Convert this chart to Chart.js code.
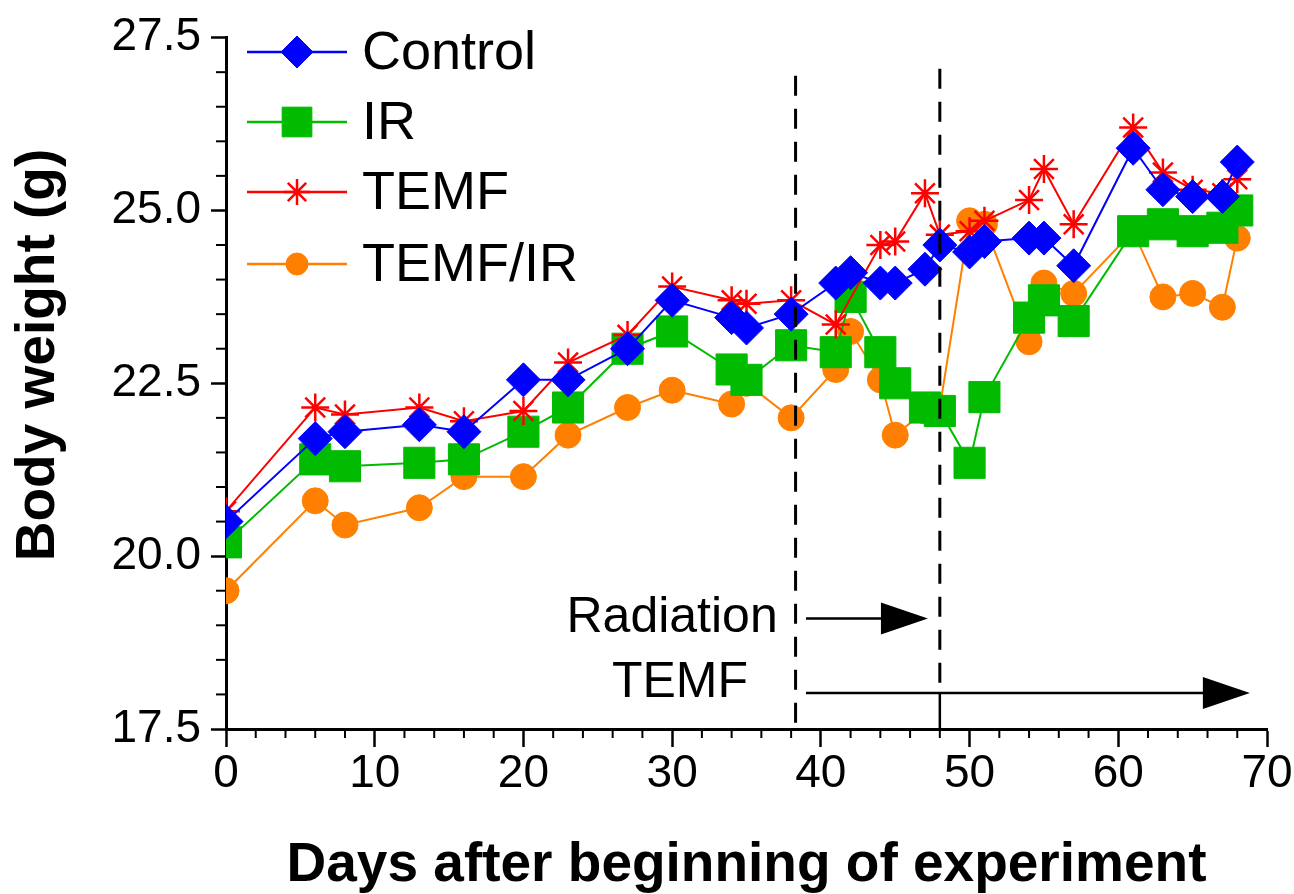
<!DOCTYPE html>
<html>
<head>
<meta charset="utf-8">
<script src="https://cdn.jsdelivr.net/npm/chart.js@4.4.1/dist/chart.umd.min.js"></script>
<style>
  html, body { margin: 0; padding: 0; background: #fff; }
  #wrap { width: 1294px; height: 894px; }
</style>
</head>
<body>
<div id="wrap"><canvas id="c" width="1294" height="894"></canvas></div>
<script>
// Days after the beginning of the experiment
const days = [0, 6, 8, 13, 16, 20, 23, 27, 30, 34, 35, 38, 41, 42, 44, 45, 47, 48, 50, 51, 54, 55, 57, 61, 63, 65, 67, 68];

// Mean body weight (g) per group
const control = [20.5, 21.7, 21.8, 21.9, 21.8, 22.55, 22.55, 23.0, 23.7, 23.45, 23.3, 23.5, 23.95, 24.1, 23.95, 23.95, 24.15, 24.5, 24.4, 24.55, 24.6, 24.6, 24.2, 25.9, 25.3, 25.2, 25.2, 25.7];
const ir = [20.2, 21.4, 21.3, 21.35, 21.4, 21.8, 22.15, 23.0, 23.25, 22.7, 22.55, 23.05, 22.95, 23.75, 22.95, 22.5, 22.15, 22.1, 21.35, 22.3, 23.45, 23.7, 23.4, 24.7, 24.8, 24.7, 24.75, 25.0];
const temf = [20.65, 22.15, 22.05, 22.15, 21.95, 22.1, 22.8, 23.2, 23.9, 23.7, 23.65, 23.7, 23.35, null, 24.5, 24.55, 25.25, 24.65, 24.7, 24.85, 25.15, 25.6, 24.8, 26.2, 25.55, 25.3, 25.25, 25.45];
const temfIr = [19.5, 20.8, 20.45, 20.7, 21.15, 21.15, 21.75, 22.15, 22.4, 22.2, 22.5, 22.0, 22.7, 23.25, 22.55, 21.75, 22.1, 22.15, 24.85, 24.8, 23.1, 23.95, 23.8, 24.7, 23.75, 23.8, 23.6, 24.6];

// Axis ticks
const xTicks = [0, 10, 20, 30, 40, 50, 60, 70];
const yTicks = [17.5, 20.0, 22.5, 25.0, 27.5];

// Treatment periods (days)
const radiationPeriod = [38.3, 48.0];
const temfStart = 38.3;

const FONT = "'Liberation Sans', Arial, Helvetica, sans-serif";

function series(values) {
  return values.map((v, i) => ({ x: days[i], y: v }));
}

const datasets = [
  { label: 'Control', data: series(control), borderColor: '#0000ff', backgroundColor: '#0000ff',
    pointStyle: 'rectRot', pointRadius: 17, pointBorderWidth: 1, order: 0, legendRadius: 16 },
  { label: 'IR', data: series(ir), borderColor: '#00bb00', backgroundColor: '#00bb00',
    pointStyle: 'rect', pointRadius: 22, pointBorderWidth: 1, order: 2, legendRadius: 21 },
  { label: 'TEMF', data: series(temf), borderColor: '#ff0000', backgroundColor: '#ff0000',
    pointStyle: 'star', pointRadius: 14, pointBorderWidth: 2.5, order: 1, legendRadius: 13 },
  { label: 'TEMF/IR', data: series(temfIr), borderColor: '#ff8000', backgroundColor: '#ff8000',
    pointStyle: 'circle', pointRadius: 13, pointBorderWidth: 1, order: 3, legendRadius: 11 }
];
datasets.forEach(d => { d.borderWidth = 2; d.spanGaps = true; d.tension = 0; });

function line(ctx, x1, y1, x2, y2) {
  ctx.beginPath(); ctx.moveTo(x1, y1); ctx.lineTo(x2, y2); ctx.stroke();
}

function arrow(ctx, x1, x2, y) {
  ctx.lineWidth = 2.5;
  line(ctx, x1, y, x2 - 20, y);
  ctx.beginPath();
  ctx.moveTo(x2, y);
  ctx.lineTo(x2 - 47, y - 16);
  ctx.lineTo(x2 - 47, y + 16);
  ctx.closePath();
  ctx.fill();
}

// Minor ticks, treatment markers, legend and axis titles
const decorations = {
  id: 'decorations',
  afterDatasetsDraw(chart) {
    const { ctx, scales: { x, y } } = chart;
    ctx.save();
    ctx.strokeStyle = '#000';
    ctx.fillStyle = '#000';

    // minor ticks
    ctx.lineWidth = 2;
    for (let d = 0; d <= 70; d += 2) {
      if (d % 10 === 0) continue;
      const px = x.getPixelForValue(d);
      line(ctx, px, x.top, px, x.top + 9);
    }
    for (let i = 0; i <= 20; i++) {
      const v = 17.5 + i * 0.5;
      if (i % 5 === 0) continue;
      const py = y.getPixelForValue(v);
      line(ctx, y.right - 10, py, y.right, py);
    }

    // treatment period markers
    const xa = x.getPixelForValue(radiationPeriod[0]);
    const xb = x.getPixelForValue(radiationPeriod[1]);
    const yTemf = y.getPixelForValue(18.02);
    const yRad = y.getPixelForValue(19.1);
    ctx.lineWidth = 3;
    ctx.setLineDash([20, 13]);
    line(ctx, xa, y.getPixelForValue(26.95), xa, y.bottom);
    line(ctx, xb, y.getPixelForValue(27.05), xb, yTemf);
    ctx.setLineDash([]);
    ctx.lineWidth = 2.5;
    line(ctx, xb, yTemf, xb, y.bottom);

    arrow(ctx, x.getPixelForValue(39.0), x.getPixelForValue(47.2), yRad);
    arrow(ctx, x.getPixelForValue(temfStart + 0.7), x.getPixelForValue(68.85), yTemf);

    ctx.font = '50px ' + FONT;
    ctx.textAlign = 'right';
    ctx.textBaseline = 'middle';
    ctx.fillText('Radiation', x.getPixelForValue(37.1), yRad);
    ctx.fillText('TEMF', x.getPixelForValue(35.1), y.getPixelForValue(18.16));

    // legend
    const lx0 = 247, lx1 = 347, lm = 297, ltx = 362;
    const rows = [52, 122, 192, 264];
    chart.data.datasets.forEach((ds, i) => {
      const ry = rows[i];
      ctx.strokeStyle = ds.borderColor;
      ctx.fillStyle = ds.backgroundColor;
      ctx.lineWidth = 2.5;
      line(ctx, lx0, ry, lx1, ry);
      ctx.lineWidth = ds.pointBorderWidth;
      Chart.helpers.drawPoint(ctx, { pointStyle: ds.pointStyle, radius: ds.legendRadius, rotation: 0, borderWidth: ds.pointBorderWidth }, lm, ry);
      ctx.fillStyle = '#000';
      ctx.font = '54px ' + FONT;
      ctx.textAlign = 'left';
      ctx.textBaseline = 'middle';
      ctx.fillText(ds.label, ltx, ry + 2);
    });

    // axis titles
    ctx.fillStyle = '#000';
    ctx.font = 'bold 55px ' + FONT;
    ctx.textAlign = 'center';
    ctx.textBaseline = 'middle';
    ctx.fillText('Days after beginning of experiment', (x.left + x.right) / 2, 866);
    ctx.translate(39, 355);
    ctx.rotate(-Math.PI / 2);
    ctx.fillText('Body weight (g)', 0, 0);
    ctx.restore();
  }
};

new Chart(document.getElementById('c'), {
  type: 'line',
  data: { datasets },
  options: {
    responsive: false,
    animation: false,
    devicePixelRatio: 1,
    layout: { padding: { top: 35, right: 27, left: 0, bottom: 0 } },
    plugins: { legend: { display: false }, tooltip: { enabled: false } },
    scales: {
      x: {
        type: 'linear', min: 0, max: 70,
        afterBuildTicks: s => { s.ticks = xTicks.map(v => ({ value: v })); },
        afterFit: s => { s.height = 165; },
        ticks: { font: { family: FONT, size: 46 }, color: '#000', padding: 0, maxRotation: 0, autoSkip: false },
        grid: { drawOnChartArea: false, tickLength: 18, tickWidth: 2.5, tickColor: '#000' },
        border: { color: '#000', width: 3 }
      },
      y: {
        type: 'linear', min: 17.5, max: 27.5,
        afterBuildTicks: s => { s.ticks = yTicks.map(v => ({ value: v })); },
        afterFit: s => { s.width = 226; },
        ticks: { font: { family: FONT, size: 46 }, color: '#000', padding: 10, autoSkip: false,
                 callback: v => Number(v).toFixed(1) },
        grid: { drawOnChartArea: false, tickLength: 15, tickWidth: 2.5, tickColor: '#000' },
        border: { color: '#000', width: 3 }
      }
    }
  },
  plugins: [decorations]
});
</script>
</body>
</html>
